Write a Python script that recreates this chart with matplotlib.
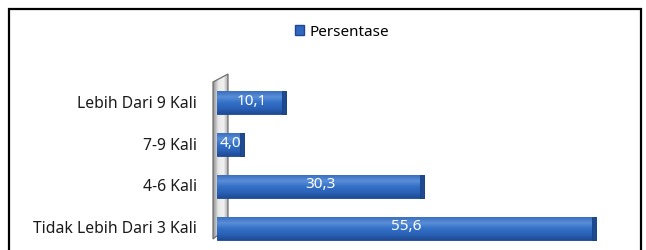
import matplotlib
matplotlib.use('Agg')
import matplotlib.pyplot as plt
from matplotlib.patches import Patch, Polygon, Rectangle
from matplotlib.colors import LinearSegmentedColormap
import numpy as np

# data
categories = ['Tidak Lebih Dari 3 Kali', '4-6 Kali', '7-9 Kali', 'Lebih Dari 9 Kali']
values = [55.6, 30.3, 4.0, 10.1]
value_labels = ['55,6', '30,3', '4,0', '10,1']
series_name = 'Persentase'

plt.rcParams['font.family'] = ['Noto Sans', 'DejaVu Sans']

W, H = 646, 251
fig = plt.figure(figsize=(W / 100, H / 100), dpi=100)

def fx(px):
    return px / W

def fy(py):
    return 1 - py / H

# background axes for the grey wall
bg = fig.add_axes([0, 0, 1, 1], zorder=0)
bg.axis('off')
bg.set_xlim(0, 1)
bg.set_ylim(0, 1)
wall_pts = [(fx(213), fy(240)), (fx(213), fy(83)), (fx(228), fy(75)), (fx(228), fy(228))]
grey = LinearSegmentedColormap.from_list('wall', ['#8f8f8f', '#e8e8e8', '#f2f2f2', '#9c9c9c'])
grad = np.linspace(0, 1, 64).reshape(1, -1)
im = bg.imshow(grad, cmap=grey, aspect='auto',
               extent=[fx(213), fx(228), fy(240), fy(75)], interpolation='bilinear')
wall = Polygon(wall_pts, closed=True, facecolor='none', edgecolor='#6f6f6f', linewidth=0.9)
bg.add_patch(wall)
im.set_clip_path(wall)

# main axes: x 217..630 px, y 80..245 px
ax = fig.add_axes([fx(217), fy(245), fx(630) - fx(217), fy(80) - fy(245)], zorder=2)
ax.axis('off')
ax.patch.set_alpha(0)

ypos = np.arange(len(categories))
bh = 0.55
bars = ax.barh(ypos, values, height=bh, color='#2c62b8', edgecolor='#1d4790', linewidth=0.6, zorder=3)

blue = LinearSegmentedColormap.from_list('bluebar', ['#1f4b94', '#2b62b8', '#3270c6', '#5a8ed8', '#3a6fc0'])
vgrad = np.linspace(0, 1, 64).reshape(-1, 1)
for b in bars:
    x0, y0 = b.get_x(), b.get_y()
    img = ax.imshow(vgrad, cmap=blue, aspect='auto', origin='lower', interpolation='bilinear',
                    extent=[x0, x0 + b.get_width(), y0, y0 + b.get_height()], zorder=4)
    img.set_clip_path(b)
ax.set_xlim(0, (630 - 217) / 6.82)
ax.set_ylim(-0.38, 3.57)

cap = 0.6
ax.barh(ypos, [cap] * len(values), left=np.array(values) - cap, height=bh,
        color='#1e4a92', edgecolor='#1a4185', linewidth=0.6, zorder=5)

for y, v, lab in zip(ypos, values, value_labels):
    ax.text(v / 2, y + 0.06, lab, color='white', ha='center', va='center', fontsize=11, zorder=6)

for y, c in zip(ypos, categories):
    fig.text(fx(197), ax.transData.transform((0, y))[1] / H, c, ha='right', va='center',
             fontsize=11.3, color='#1a1a1a')

fig.legend(handles=[Patch(facecolor='#3068c0', edgecolor='#1d4790', label=series_name)],
           loc='center', bbox_to_anchor=(fx(342), fy(33)), frameon=False, fontsize=11,
           handlelength=0.6, handleheight=0.6, handletextpad=0.4)

# outer frame
frame = Rectangle((fx(9), -0.05), fx(641) - fx(9), fy(10) + 0.05, transform=fig.transFigure,
                  facecolor='none', edgecolor='black', linewidth=1.6, clip_on=False)
fig.add_artist(frame)

fig.savefig('out.png', dpi=100)
